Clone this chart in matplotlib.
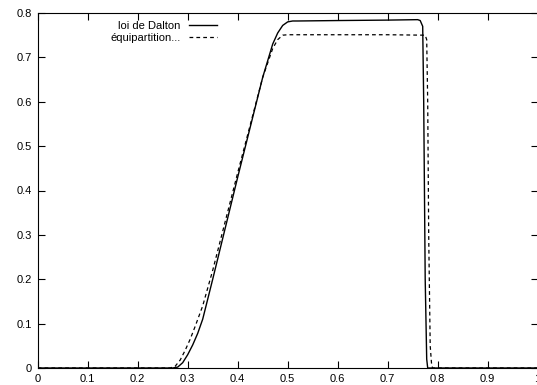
import numpy as np
import matplotlib
matplotlib.use("Agg")
import matplotlib.pyplot as plt

# courbe "loi de Dalton" (trait plein)
x_dalton = [0, 0.27, 0.28, 0.29, 0.30, 0.31, 0.32, 0.33, 0.35, 0.40, 0.45, 0.47,
            0.48, 0.49, 0.50, 0.51, 0.52, 0.60, 0.70, 0.76, 0.765, 0.77, 0.772,
            0.775, 0.778, 0.78, 1.0]
y_dalton = [0, 0, 0.002, 0.012, 0.03, 0.052, 0.078, 0.11, 0.2, 0.43, 0.655, 0.73,
            0.755, 0.772, 0.780, 0.782, 0.782, 0.783, 0.784, 0.785, 0.783, 0.77,
            0.6, 0.2, 0.02, 0, 0]

# courbe "équipartition..." (tirets)
x_equi = [0, 0.265, 0.275, 0.285, 0.295, 0.305, 0.315, 0.33, 0.35, 0.40, 0.45,
          0.47, 0.48, 0.49, 0.50, 0.60, 0.70, 0.775, 0.778, 0.780, 0.782, 0.785,
          0.788, 0.79, 1.0]
y_equi = [0, 0, 0.004, 0.018, 0.04, 0.065, 0.094, 0.14, 0.22, 0.44, 0.655, 0.72,
          0.74, 0.75, 0.751, 0.751, 0.751, 0.75, 0.74, 0.6, 0.3, 0.05, 0.005, 0, 0]

x_ticks = [0, 0.1, 0.2, 0.3, 0.4, 0.5, 0.6, 0.7, 0.8, 0.9, 1]
y_ticks = [0, 0.1, 0.2, 0.3, 0.4, 0.5, 0.6, 0.7, 0.8]

plt.rcParams['font.family'] = ['Liberation Sans', 'DejaVu Sans']

fig = plt.figure(figsize=(5.37, 3.85), dpi=100)
ax = fig.add_axes([37.7 / 537, 17 / 385, 500 / 537, 355 / 385])

ax.plot(x_dalton, y_dalton, color='black', lw=1.0, label='loi de Dalton')
ax.plot(x_equi, y_equi, color='black', lw=0.9, linestyle=(0, (3, 2.5)),
        label='équipartition...')

ax.set_xlim(0, 1)
ax.set_ylim(0, 0.8)
ax.set_xticks(x_ticks)
ax.set_yticks(y_ticks)
ax.set_xticklabels(['%g' % t for t in x_ticks])
ax.set_yticklabels(['%g' % t for t in y_ticks])
ax.tick_params(direction='in', top=True, right=True, length=5, width=0.8,
               labelsize=8, pad=4)
for s in ax.spines.values():
    s.set_linewidth(0.8)

ax.legend(loc='upper right', bbox_to_anchor=(0.375, 1.0), frameon=False,
          markerfirst=False, fontsize=8, handlelength=2.6, handletextpad=0.7,
          labelspacing=0.2, borderaxespad=0.3)

fig.savefig('out.png', dpi=100)
